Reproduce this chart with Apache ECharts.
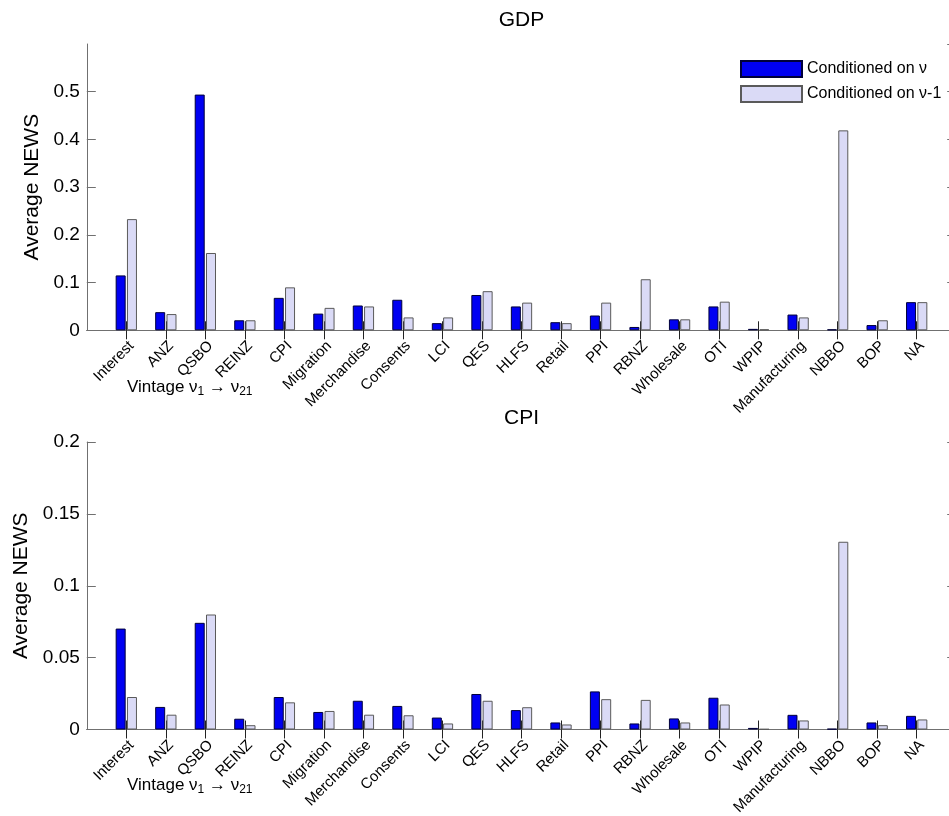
<!DOCTYPE html>
<html>
<head>
<meta charset="utf-8">
<script src="https://cdn.jsdelivr.net/npm/echarts@6/dist/echarts.min.js"></script>
<style>html,body{margin:0;padding:0;background:#fff;}#c{width:949px;height:816px;}</style>
</head>
<body>
<div id="c"></div>
<script>
const categories = ['Interest','ANZ','QSBO','REINZ','CPI','Migration','Merchandise','Consents','LCI','QES','HLFS','Retail','PPI','RBNZ','Wholesale','OTI','WPIP','Manufacturing','NBBO','BOP','NA'];
const seriesNames = ['Conditioned on \u03bd', 'Conditioned on \u03bd-1'];
const gdpNu  = [0.115, 0.038, 0.494, 0.021, 0.068, 0.035, 0.052, 0.064, 0.015, 0.074, 0.050, 0.017, 0.031, 0.007, 0.023, 0.050, 0.003, 0.033, 0.002, 0.011, 0.059];
const gdpNu1 = [0.233, 0.034, 0.162, 0.021, 0.090, 0.047, 0.050, 0.027, 0.027, 0.082, 0.058, 0.015, 0.058, 0.107, 0.023, 0.060, 0.002, 0.027, 0.419, 0.021, 0.059];
const cpiNu  = [0.0702, 0.0157, 0.0742, 0.0075, 0.0226, 0.0122, 0.0200, 0.0164, 0.0083, 0.0247, 0.0135, 0.0049, 0.0265, 0.0042, 0.0077, 0.0221, 0.0011, 0.0102, 0.0005, 0.0049, 0.0095];
const cpiNu1 = [0.0226, 0.0103, 0.0800, 0.0030, 0.0189, 0.0129, 0.0103, 0.0099, 0.0042, 0.0200, 0.0155, 0.0035, 0.0211, 0.0206, 0.0049, 0.0174, 0.0003, 0.0063, 0.1306, 0.0030, 0.0070];
const gdpTicks = {min: 0, max: 0.6, interval: 0.1};
const cpiTicks = {min: 0, max: 0.2, interval: 0.05};

const FONT = 'Liberation Sans, Arial, sans-serif';
const padCats = [''].concat(categories, ['']);
const pad = arr => [null].concat(arr, [null]);
const N = padCats.length;

const axisColor = '#707070';
function xAxes(gi) {
  return [
    {
      type: 'category', gridIndex: gi, data: padCats, boundaryGap: false, position: 'bottom',
      axisLine: {lineStyle: {color: axisColor, width: 1}},
      axisTick: {inside: true, length: 9, interval: (i) => i > 0 && i < N - 1, lineStyle: {color: '#222'}},
      axisLabel: {interval: 0, rotate: 45, margin: 8, fontSize: 15, lineHeight: 15, verticalAlign: 'top', fontFamily: FONT, color: '#000'},
      splitLine: {show: false}
    },
    {
      type: 'category', gridIndex: gi, data: padCats, boundaryGap: false, position: 'top',
      axisLine: {lineStyle: {color: axisColor, width: 1}},
      axisTick: {inside: true, length: 9, interval: (i) => i > 0 && i < N - 1, lineStyle: {color: '#222'}},
      axisLabel: {show: false},
      splitLine: {show: false}
    }
  ];
}
function yAxes(gi, t, showMax) {
  return [
    {
      type: 'value', gridIndex: gi, position: 'left', min: t.min, max: t.max, interval: t.interval,
      name: 'Average NEWS', nameLocation: 'middle', nameGap: 39,
      nameTextStyle: {fontSize: 21, fontFamily: FONT, color: '#000'},
      axisLine: {show: true, lineStyle: {color: axisColor}},
      axisTick: {show: true, inside: true, length: 9, lineStyle: {color: axisColor}},
      axisLabel: {fontSize: 19, fontFamily: FONT, color: '#000', margin: 7, showMaxLabel: showMax},
      splitLine: {show: false}
    },
    {
      type: 'value', gridIndex: gi, position: 'right', min: t.min, max: t.max, interval: t.interval,
      axisLine: {show: true, lineStyle: {color: axisColor}},
      axisTick: {show: true, inside: true, length: 9, lineStyle: {color: axisColor}},
      axisLabel: {show: false},
      splitLine: {show: false}
    }
  ];
}

const blueStyle = {color: '#0000f2', borderColor: '#00003a', borderWidth: 1};
const lightStyle = {color: '#dadaf6', borderColor: '#5a5a5a', borderWidth: 1};
function bars(name, data, xi, yi, style) {
  return {
    type: 'bar', name: name, data: pad(data), xAxisIndex: xi, yAxisIndex: yi,
    barWidth: 10, barGap: '13%', itemStyle: style, emphasis: {disabled: true}, z: 2
  };
}

const chart = echarts.init(document.getElementById('c'), null, {renderer: 'canvas'});
chart.setOption({
  animation: false,
  backgroundColor: '#fff',
  grid: [
    {left: 86.8, top: 44, width: 869.4, height: 286.3, containLabel: false, outerBoundsMode: 'none'},
    {left: 86.8, top: 442, width: 869.4, height: 287.5, containLabel: false, outerBoundsMode: 'none'}
  ],
  xAxis: xAxes(0).concat(xAxes(1)),
  yAxis: yAxes(0, gdpTicks, false).concat(yAxes(1, cpiTicks, true)),
  legend: {
    data: seriesNames, orient: 'vertical', left: 735, top: 55,
    itemWidth: 61, itemHeight: 16, itemGap: 7, icon: 'rect',
    textStyle: {fontSize: 16, fontFamily: FONT, color: '#000'},
    selectedMode: false
  },
  series: [
    bars(seriesNames[0], gdpNu, 0, 0, blueStyle),
    bars(seriesNames[1], gdpNu1, 0, 0, lightStyle),
    bars(seriesNames[0], cpiNu, 2, 2, blueStyle),
    bars(seriesNames[1], cpiNu1, 2, 2, lightStyle)
  ],
  graphic: [
    {type: 'text', style: {text: 'GDP', x: 521.5, y: 20, textAlign: 'center', textVerticalAlign: 'middle', font: '21px ' + FONT, fill: '#000'}},
    {type: 'text', style: {text: 'CPI', x: 521.5, y: 418, textAlign: 'center', textVerticalAlign: 'middle', font: '21px ' + FONT, fill: '#000'}},
    {type: 'text', style: {
      text: '{m|Vintage \u03bd}{s|1}{m| \u2192 \u03bd}{s|21}', x: 127, y: 387, textAlign: 'left', textVerticalAlign: 'middle',
      rich: {m: {fontSize: 17, fontFamily: FONT, fill: '#000', lineHeight: 24}, s: {fontSize: 12, fontFamily: FONT, fill: '#000', padding: [9, 0, 0, 0]}}
    }},
    {type: 'text', style: {
      text: '{m|Vintage \u03bd}{s|1}{m| \u2192 \u03bd}{s|21}', x: 127, y: 785, textAlign: 'left', textVerticalAlign: 'middle',
      rich: {m: {fontSize: 17, fontFamily: FONT, fill: '#000', lineHeight: 24}, s: {fontSize: 12, fontFamily: FONT, fill: '#000', padding: [9, 0, 0, 0]}}
    }}
  ]
});
</script>
</body>
</html>
